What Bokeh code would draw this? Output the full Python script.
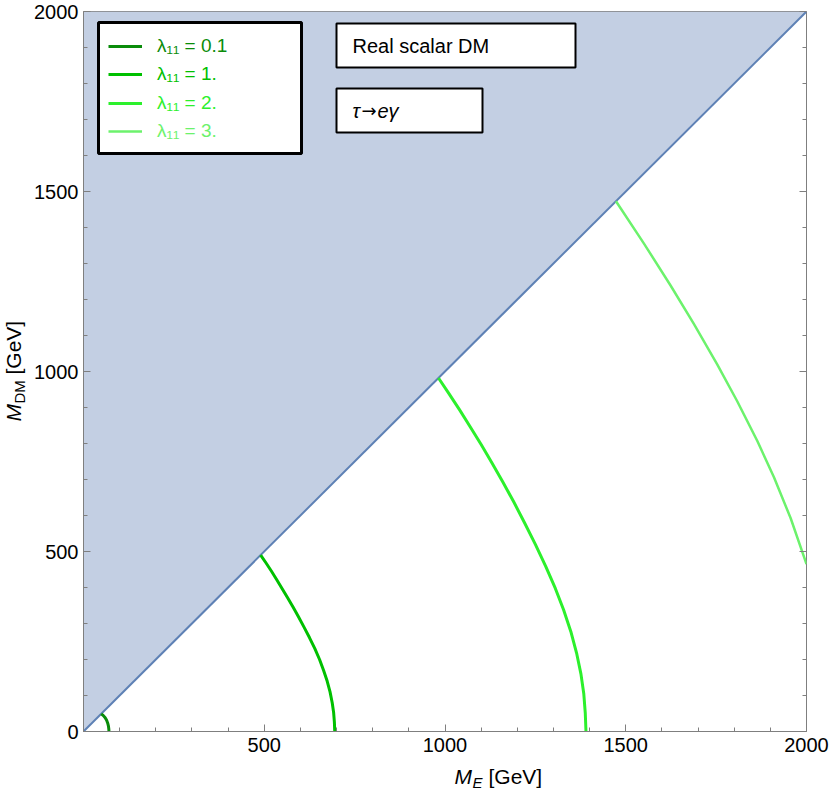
from bokeh.plotting import figure
from bokeh.layouts import row, column
from bokeh.models import (Range1d, LinearAxis, FixedTicker, BoxAnnotation, Label,
                          Legend, LegendItem, CustomJSTickFormatter)
from bokeh.embed import file_html
from bokeh.resources import INLINE
import math

# ---------------- data ----------------
lambda_labels = ["0.1", "1.", "2.", "3."]
curve_colors = ["#0a8c0a", "#00c000", "#2cf02c", "#6cf26c"]

lam01_x = [49, 55, 60, 64, 67, 69, 70, 70.5]
lam01_y = [49, 44, 38, 31, 23, 15, 7, 0]

lam1_x = [490, 505, 520, 535, 550, 565, 580, 595, 610, 625, 640, 653, 664, 674, 682, 688, 692, 694, 695]
lam1_y = [490, 468, 445, 421, 396, 371, 345, 318, 290, 261, 230, 200, 170, 140, 110, 80, 52, 26, 0]

lam2_x = [982, 1010, 1040, 1070, 1100, 1130, 1160, 1190, 1220, 1250, 1278, 1305, 1328, 1348, 1364, 1376, 1384, 1388, 1390]
lam2_y = [982, 940, 894, 846, 797, 746, 693, 638, 580, 520, 460, 398, 338, 278, 218, 160, 104, 52, 0]

lam3_x = [1473, 1550, 1624, 1688, 1753, 1808, 1864, 1910, 1956, 2000]
lam3_y = [1473, 1356, 1239, 1133, 1020, 918, 807, 706, 593, 465]

boundary_x = [0, 2000]
boundary_y = [0, 2000]
region_top = [2000, 2000]

major_ticks = [0, 500, 1000, 1500, 2000]
minor_ticks = [100, 200, 300, 400, 600, 700, 800, 900, 1100, 1200, 1300, 1400,
               1600, 1700, 1800, 1900]

# ---------------- main figure ----------------
FONT = "Liberation Sans"
FW, FH = 723, 720
BL, BR, BT, BB = 53, 24, 11, 32
AX = "#7f7f7f"

p = figure(frame_width=FW, frame_height=FH,
           x_range=Range1d(0, 2000), y_range=Range1d(0, 2000),
           output_backend="svg", toolbar_location=None,
           min_border_left=BL, min_border_right=BR, min_border_top=BT, min_border_bottom=BB,
           background_fill_color="white", border_fill_color="white")
p.grid.visible = False
p.outline_line_color = AX
p.outline_line_width = 1

ticker = FixedTicker(ticks=major_ticks, minor_ticks=minor_ticks)

def style_axis(ax):
    ax.ticker = ticker
    ax.axis_line_color = AX
    ax.major_tick_line_color = AX
    ax.minor_tick_line_color = AX
    ax.major_tick_in = 7
    ax.major_tick_out = 0
    ax.minor_tick_in = 4
    ax.minor_tick_out = 0
    ax.major_label_text_font = FONT
    ax.major_label_text_font_size = "20px"
    ax.major_label_text_color = "black"
    ax.axis_label = None

xa = p.xaxis[0]
ya = p.yaxis[0]
style_axis(xa)
style_axis(ya)
xa.major_label_overrides = {0: ""}
xa.major_label_standoff = 6
ya.major_label_standoff = 5

ra = LinearAxis()
style_axis(ra)
ra.axis_line_color = None
ra.major_label_text_font_size = "0px"
ra.major_label_standoff = 0
ra.formatter = CustomJSTickFormatter(code="return ''")
p.add_layout(ra, "right")

# shaded excluded region and its boundary
p.varea(x=boundary_x, y1=boundary_y, y2=region_top, fill_color="#c3cfe3")
p.line(boundary_x, boundary_y, line_color="#5e81b5", line_width=2)

# contour curves
series = [(lam01_x, lam01_y), (lam1_x, lam1_y), (lam2_x, lam2_y), (lam3_x, lam3_y)]
widths = [3, 3, 3, 2.5]
renderers = []
for (xs, ys), c, w in zip(series, curve_colors, widths):
    r = p.line(xs, ys, line_color=c, line_width=w, line_join="round")
    renderers.append(r)

# ---------------- legend (screen units relative to frame) ----------------
def top_to_y(t):
    return FH - t

def box(left, right, top, bottom, lw):
    p.add_layout(BoxAnnotation(left=left, right=right, top=top_to_y(top), bottom=top_to_y(bottom),
                               left_units="screen", right_units="screen",
                               top_units="screen", bottom_units="screen",
                               fill_color="white", fill_alpha=1.0,
                               line_color="black", line_width=lw, line_alpha=1.0))

box(15, 218, 11, 142, 3)

item_centers = [35, 63, 92, 120]
item_h = 22
for lab, c, r, yc in zip(lambda_labels, curve_colors, renderers, item_centers):
    leg = Legend(items=[LegendItem(label="λ₁₁ = " + lab, renderers=[r])],
                 location=(25, top_to_y(yc) - item_h / 2),
                 padding=0, margin=0, spacing=0,
                 border_line_alpha=0, background_fill_alpha=0,
                 glyph_width=34, glyph_height=item_h, label_height=item_h,
                 label_standoff=15,
                 label_text_color=c, label_text_font=FONT,
                 label_text_font_size="19px")
    p.add_layout(leg)

# ---------------- text boxes ----------------
box(253, 492, 12, 56, 2)
box(253, 399, 77, 121, 2)

def add_label(fig, text, x, y, size="20px", style="normal", angle=0.0, font=FONT):
    fig.add_layout(Label(x=x, y=y, x_units="screen", y_units="screen", text=text,
                         text_font=font, text_font_size=size, text_font_style=style,
                         text_color="black", text_baseline="middle",
                         text_align="left", angle=angle))

add_label(p, "Real scalar DM", 269, top_to_y(34))
add_label(p, "τ", 269, top_to_y(99), style="italic")
add_label(p, "→", 278, top_to_y(99), size="18px", font="DejaVu Sans")
add_label(p, "eγ", 294, top_to_y(99), style="italic")

# ---------------- axis titles in side strips ----------------
PW = BL + FW + BR
PH = BT + FH + BB
XH = 30
YW = 30

def strip(w, h):
    f = figure(width=w, height=h, x_range=Range1d(0, 1), y_range=Range1d(0, 1),
               x_axis_location=None, y_axis_location=None, min_border=0,
               output_backend="svg", toolbar_location=None,
               background_fill_color="white", border_fill_color="white")
    f.outline_line_color = None
    f.xgrid.visible = False
    f.ygrid.visible = False
    return f

xlab = strip(PW, XH)
cx = BL + FW / 2
x0 = cx - 43.5
xm = 17
add_label(xlab, "M", x0, xm, size="21px", style="italic")
add_label(xlab, "E", x0 + 18, xm - 6, size="15px", style="italic")
add_label(xlab, "[GeV]", x0 + 34, xm, size="21px")

ylab = strip(YW, PH)
cy = PH - (BT + FH / 2)
y0 = cy - 50
ym = 13
add_label(ylab, "M", ym, y0, size="21px", style="italic", angle=math.pi / 2)
add_label(ylab, "DM", ym + 6, y0 + 18, size="15px", angle=math.pi / 2)
add_label(ylab, "[GeV]", ym, y0 + 47, size="21px", angle=math.pi / 2)

layout = row(ylab, column(p, xlab))

open("out.html", "w").write(file_html(layout, INLINE))
